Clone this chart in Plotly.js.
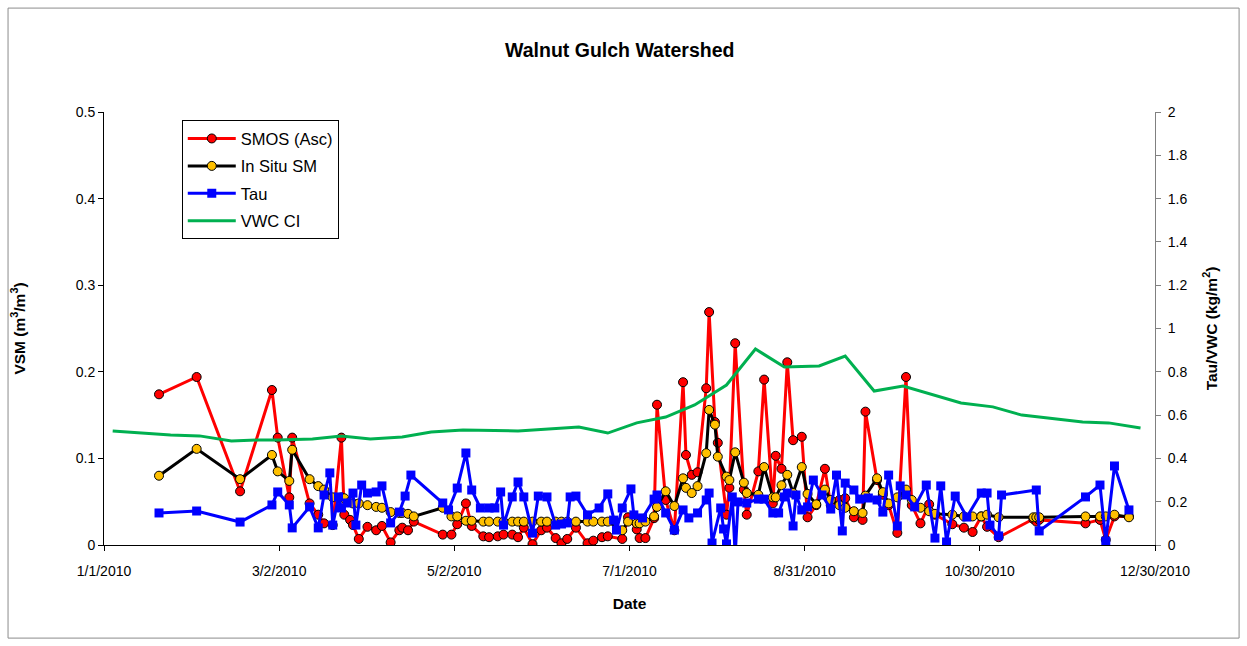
<!DOCTYPE html>
<html>
<head>
<meta charset="utf-8">
<script src="https://cdn.plot.ly/plotly-3.0.1.min.js"></script>
<style>html,body{margin:0;padding:0;background:#fff;}#chart{width:1247px;height:646px;}</style>
</head>
<body>
<div id="chart"></div>
<script>
// SMOS (Asc) overpass dates, shared by SMOS and in situ soil moisture
const smosDates = [
 '2010-01-20','2010-02-02','2010-02-17','2010-02-28','2010-03-02','2010-03-06','2010-03-07','2010-03-13','2010-03-16','2010-03-18',
 '2010-03-21','2010-03-24','2010-03-25','2010-03-27','2010-03-28','2010-03-30','2010-04-02','2010-04-05','2010-04-07','2010-04-10',
 '2010-04-13','2010-04-14','2010-04-16','2010-04-18','2010-04-28','2010-05-01','2010-05-03','2010-05-06','2010-05-08','2010-05-12',
 '2010-05-14','2010-05-17','2010-05-19','2010-05-22','2010-05-24','2010-05-26','2010-05-29','2010-06-01','2010-06-03','2010-06-06',
 '2010-06-08','2010-06-10','2010-06-13','2010-06-17','2010-06-19','2010-06-22','2010-06-24','2010-06-29','2010-07-01','2010-07-04',
 '2010-07-05','2010-07-07','2010-07-10','2010-07-11','2010-07-14','2010-07-17','2010-07-20','2010-07-21','2010-07-23','2010-07-25',
 '2010-07-28','2010-07-29','2010-07-31','2010-08-01','2010-08-04','2010-08-05','2010-08-07','2010-08-10','2010-08-11','2010-08-15',
 '2010-08-17','2010-08-20','2010-08-21','2010-08-23','2010-08-25','2010-08-27','2010-08-30','2010-09-01','2010-09-04','2010-09-07',
 '2010-09-09','2010-09-12','2010-09-14','2010-09-17','2010-09-20','2010-09-21','2010-09-25','2010-09-27','2010-09-29','2010-10-02',
 '2010-10-05','2010-10-07','2010-10-10','2010-10-13','2010-10-15','2010-10-21','2010-10-25','2010-10-28','2010-10-31','2010-11-02',
 '2010-11-06','2010-11-18','2010-11-19','2010-11-20','2010-12-06','2010-12-11','2010-12-13','2010-12-16','2010-12-21'
];
const smosVSM = [
 0.174,0.194,0.062,0.179,0.124,0.055,0.124,0.048,0.035,0.025,
 0.023,0.124,0.035,0.029,0.023,0.007,0.021,0.017,0.022,0.003,
 0.017,0.020,0.017,0.027,0.012,0.012,0.024,0.048,0.022,0.010,
 0.009,0.010,0.012,0.012,0.009,0.020,0.001,0.017,0.020,0.008,
 0.002,0.007,0.020,0.002,0.005,0.009,0.010,0.007,0.032,0.018,
 0.008,0.008,0.031,0.162,0.052,0.017,0.188,0.104,0.081,0.084,
 0.181,0.269,0.142,0.118,0.035,0.066,0.233,0.064,0.035,0.085,
 0.191,0.048,0.103,0.088,0.211,0.121,0.125,0.032,0.046,0.088,
 0.046,0.052,0.054,0.032,0.029,0.154,0.075,0.058,0.046,0.014,
 0.194,0.046,0.025,0.047,0.035,0.024,0.020,0.015,0.033,0.021,
 0.009,0.030,0.027,0.029,0.025,0.029,0.006,0.033,0.033
];
const insituVSM = [
 0.080,0.111,0.076,0.104,0.085,0.074,0.110,0.076,0.068,0.064,
 0.055,0.055,0.054,0.050,0.048,0.048,0.046,0.044,0.043,0.038,
 0.037,0.037,0.036,0.033,0.043,0.033,0.033,0.028,0.028,0.027,
 0.027,0.027,0.027,0.027,0.027,0.027,0.027,0.027,0.027,0.027,
 0.027,0.027,0.027,0.027,0.027,0.027,0.027,0.017,0.027,0.025,
 0.025,0.027,0.033,0.044,0.062,0.045,0.077,0.066,0.060,0.068,
 0.106,0.156,0.139,0.102,0.079,0.075,0.107,0.072,0.060,0.058,
 0.090,0.055,0.055,0.069,0.081,0.060,0.090,0.059,0.047,0.064,
 0.052,0.046,0.043,0.039,0.037,0.057,0.077,0.061,0.048,0.055,
 0.064,0.052,0.043,0.039,0.036,0.035,0.033,0.033,0.033,0.035,
 0.032,0.032,0.032,0.032,0.033,0.033,0.033,0.035,0.032
];
// Tau (vegetation optical depth)
const tauDates = [
 '2010-01-20','2010-02-02','2010-02-17','2010-02-28','2010-03-02','2010-03-06','2010-03-07','2010-03-13','2010-03-16','2010-03-18',
 '2010-03-20','2010-03-21','2010-03-23','2010-03-24','2010-03-26','2010-03-28','2010-03-29','2010-03-31','2010-04-02','2010-04-05',
 '2010-04-07','2010-04-10','2010-04-13','2010-04-15','2010-04-17','2010-04-28','2010-04-30','2010-05-03','2010-05-06','2010-05-08',
 '2010-05-11','2010-05-14','2010-05-16','2010-05-18','2010-05-19','2010-05-22','2010-05-24','2010-05-26','2010-05-29','2010-05-31',
 '2010-06-03','2010-06-06','2010-06-08','2010-06-10','2010-06-11','2010-06-13','2010-06-17','2010-06-21','2010-06-24','2010-06-26',
 '2010-06-27','2010-06-29','2010-07-02','2010-07-03','2010-07-06','2010-07-10','2010-07-11','2010-07-14','2010-07-17','2010-07-20',
 '2010-07-22','2010-07-25','2010-07-28','2010-07-29','2010-07-30','2010-08-02','2010-08-03','2010-08-04','2010-08-06','2010-08-07',
 '2010-08-08','2010-08-11','2010-08-15','2010-08-17','2010-08-20','2010-08-22','2010-08-24','2010-08-25','2010-08-27','2010-08-28',
 '2010-08-30','2010-09-01','2010-09-03','2010-09-06','2010-09-09','2010-09-11','2010-09-13','2010-09-14','2010-09-17','2010-09-19',
 '2010-09-22','2010-09-25','2010-09-27','2010-09-29','2010-10-02','2010-10-03','2010-10-05','2010-10-08','2010-10-12','2010-10-15',
 '2010-10-17','2010-10-19','2010-10-22','2010-10-26','2010-10-31','2010-11-02','2010-11-03','2010-11-06','2010-11-07','2010-11-19',
 '2010-11-20','2010-12-06','2010-12-11','2010-12-13','2010-12-16','2010-12-21'
];
const tauValues = [
 0.148,0.157,0.106,0.185,0.245,0.185,0.079,0.176,0.079,0.231,
 0.333,0.092,0.222,0.171,0.194,0.240,0.092,0.277,0.240,0.245,
 0.273,0.102,0.152,0.226,0.323,0.194,0.162,0.263,0.425,0.254,
 0.171,0.171,0.171,0.245,0.092,0.222,0.291,0.222,0.055,0.226,
 0.222,0.092,0.097,0.102,0.222,0.226,0.139,0.171,0.236,0.115,
 0.069,0.171,0.259,0.139,0.125,0.212,0.231,0.148,0.069,0.162,
 0.125,0.148,0.208,0.240,0.009,0.171,0.074,0.005,0.222,-0.050,
 0.199,0.194,0.212,0.212,0.148,0.148,0.222,0.240,0.088,0.231,
 0.162,0.176,0.300,0.231,0.166,0.323,0.065,0.286,0.254,0.212,
 0.217,0.208,0.152,0.323,0.088,0.273,0.231,0.176,0.277,0.032,
 0.273,0.014,0.226,0.129,0.240,0.240,0.092,0.042,0.231,0.254,
 0.065,0.222,0.277,0.018,0.365,0.162
];
// Vegetation water content climatology index
const vwcDates = [
 '2010-01-04','2010-01-13','2010-01-24','2010-02-03','2010-02-14','2010-02-23','2010-03-02','2010-03-14','2010-03-24','2010-04-03',
 '2010-04-14','2010-04-24','2010-05-05','2010-05-24','2010-06-04','2010-06-14','2010-06-24','2010-07-04','2010-07-14','2010-07-24',
 '2010-08-04','2010-08-14','2010-08-24','2010-09-05','2010-09-14','2010-09-24','2010-10-04','2010-10-24','2010-11-04','2010-11-14',
 '2010-11-23','2010-12-05','2010-12-14','2010-12-25'
];
const vwcValues = [
 0.527,0.517,0.508,0.504,0.480,0.485,0.485,0.490,0.503,0.490,
 0.499,0.522,0.531,0.527,0.536,0.545,0.517,0.564,0.591,0.647,
 0.739,0.905,0.822,0.827,0.873,0.711,0.734,0.656,0.638,0.600,
 0.587,0.568,0.564,0.540
];
// Axis ticks
const xTickVals = ['2010-01-01','2010-03-02 12:00','2010-05-02','2010-07-01 12:00','2010-08-31','2010-10-30 12:00','2010-12-30'];
const xTickText = ['1/1/2010','3/2/2010','5/2/2010','7/1/2010','8/31/2010','10/30/2010','12/30/2010'];
const xRange = ['2010-01-01','2010-12-30'];

const FONT = 'Liberation Sans, Arial, sans-serif';

const traces = [
 {x: smosDates, y: smosVSM, name: 'SMOS (Asc)', type: 'scatter', mode: 'lines+markers', legendgroup: 'a',
  line: {color: '#FF0000', width: 3}, marker: {symbol: 'circle', size: 9, color: '#FF0000', line: {color: '#000000', width: 1}}},
 {x: smosDates, y: insituVSM, name: 'In Situ SM', type: 'scatter', mode: 'lines+markers', legendgroup: 'b',
  line: {color: '#000000', width: 3}, marker: {symbol: 'circle', size: 9, color: '#FFC000', line: {color: '#000000', width: 1}}},
 {x: tauDates, y: tauValues, name: 'Tau', type: 'scatter', mode: 'lines+markers', yaxis: 'y2', legendgroup: 'c',
  line: {color: '#0000FF', width: 3}, marker: {symbol: 'square', size: 9, color: '#0000FF'}},
 {x: vwcDates, y: vwcValues, name: 'VWC CI', type: 'scatter', mode: 'lines', yaxis: 'y2', legendgroup: 'd',
  line: {color: '#00B050', width: 3}}
];

const layout = {
 width: 1247, height: 646,
 margin: {l: 104, r: 92, t: 112, b: 101},
 paper_bgcolor: '#ffffff', plot_bgcolor: '#ffffff',
 font: {family: FONT, color: '#000000', size: 14},
 showlegend: true,
 title: {text: '<b>Walnut Gulch Watershed</b>', font: {family: FONT, size: 19.5, color: '#000'},
         x: 0.497, xanchor: 'center', y: 0.923, yanchor: 'middle'},
 xaxis: {type: 'date', range: xRange, tickmode: 'array', tickvals: xTickVals, ticktext: xTickText,
         ticks: 'outside', ticklen: 5, tickcolor: '#000', showline: true, linecolor: '#000', linewidth: 1,
         ticklabelstandoff: 8,
         showgrid: false, zeroline: false, tickfont: {family: FONT, size: 14},
         title: {text: '<b>Date</b>', font: {family: FONT, size: 15.5}, standoff: 20}},
 yaxis: {range: [0, 0.5], tick0: 0, dtick: 0.1, ticks: 'outside', ticklen: 5, tickcolor: '#000',
         showline: true, linecolor: '#000', linewidth: 1, showgrid: false, zeroline: false,
         tickfont: {family: FONT, size: 14},
         title: {text: '<b>VSM (m<sup>3</sup>/m<sup>3</sup>)</b>', font: {family: FONT, size: 15.5}, standoff: 46}},
 yaxis2: {overlaying: 'y', side: 'right', range: [0, 2], tick0: 0, dtick: 0.2, ticks: 'outside', ticklen: 5,
          tickcolor: '#808080', showline: true, linecolor: '#808080', linewidth: 1, showgrid: false, zeroline: false,
          ticklabelstandoff: 4,
          tickfont: {family: FONT, size: 14},
          title: {text: '<b>Tau/VWC (kg/m<sup>2</sup>)</b>', font: {family: FONT, size: 15.5}, standoff: 19}},
 legend: {x: 0.074, y: 0.981, xanchor: 'left', yanchor: 'top', bgcolor: '#ffffff', bordercolor: '#000', borderwidth: 1,
          font: {family: FONT, size: 16.5}, traceorder: 'grouped', tracegroupgap: 3, itemwidth: 48},
 shapes: [{type: 'rect', xref: 'paper', yref: 'paper', x0: -0.0913, x1: 1.08, y0: -0.215, y1: 1.24,
           line: {color: '#8c8c8c', width: 1}, fillcolor: 'rgba(0,0,0,0)'}]
};

Plotly.newPlot('chart', traces, layout, {displayModeBar: false, staticPlot: true});
</script>
</body>
</html>
